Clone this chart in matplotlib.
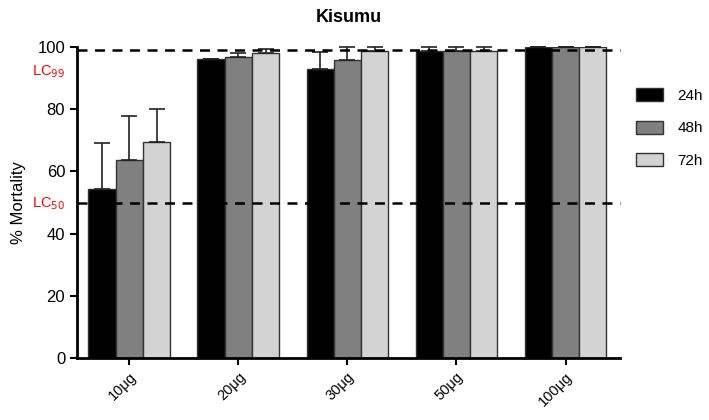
import matplotlib
matplotlib.use("Agg")
import matplotlib.pyplot as plt
import numpy as np

plt.rcParams['font.family'] = ['Liberation Sans', 'DejaVu Sans']

categories = ["10μg", "20μg", "30μg", "50μg", "100μg"]
series_names = ["24h", "48h", "72h"]
mort_24h = [54.3, 96.0, 92.8, 98.8, 100.0]
mort_48h = [63.7, 96.9, 95.8, 98.8, 100.0]
mort_72h = [69.5, 98.0, 98.8, 98.8, 100.0]
err_24h = [14.8, 0.0, 5.5, 1.2, 0.0]
err_48h = [14.1, 1.1, 4.2, 1.2, 0.0]
err_72h = [10.5, 1.3, 1.2, 1.2, 0.0]
lc_levels = [99, 50]
lc_names = ["99", "50"]

colors = ["#000000", "#808080", "#d3d3d3"]

fig = plt.figure(figsize=(7.09, 4.20), dpi=100)
ax = fig.add_axes([0.1086, 0.1476, 0.7659, 0.7405])

x = np.arange(len(categories))
w = 0.25
vals = [mort_24h, mort_48h, mort_72h]
errs = [err_24h, err_48h, err_72h]
for i, (v, e, c, n) in enumerate(zip(vals, errs, colors, series_names)):
    pos = x + (i - 1) * w
    ax.bar(pos, v, width=w, color=c, edgecolor="#333333", linewidth=1.0, label=n, zorder=2)
    ax.errorbar(pos, v, yerr=[np.zeros(len(v)), e], fmt='none', ecolor='#222222',
                elinewidth=1.2, capsize=6, capthick=1.2, zorder=3, clip_on=False)

for lvl in lc_levels:
    ax.axhline(lvl, color='black', linestyle=(0, (4, 3)), linewidth=1.8, zorder=4, clip_on=False)

ax.set_xlim(-0.48, 4.5)
ax.set_ylim(0, 100)
ax.set_yticks([0, 20, 40, 60, 80, 100])
ax.set_xticks(x)
ax.set_xticklabels(categories, rotation=45, ha='right', rotation_mode='anchor', fontsize=10.5)
ax.tick_params(axis='y', labelsize=12, width=1.5, length=5, direction='out')
ax.tick_params(axis='x', width=1.5, length=5, direction='out')
for s in ['top', 'right']:
    ax.spines[s].set_visible(False)
for s in ['left', 'bottom']:
    ax.spines[s].set_linewidth(2)

ax.set_ylabel("% Mortality", fontsize=12, labelpad=8)
ax.set_title("Kisumu", fontsize=13, fontweight='bold', pad=18)

ax.text(-0.59, 92, r"LC$_{%s}$" % lc_names[0], color='red', fontsize=10.5, ha='right', va='center',
        transform=ax.transData, clip_on=False)
ax.text(-0.59, 49.5, r"LC$_{%s}$" % lc_names[1], color='red', fontsize=10.5, ha='right', va='center',
        transform=ax.transData, clip_on=False)

leg = ax.legend(loc='upper left', bbox_to_anchor=(0.897, 0.79), bbox_transform=fig.transFigure,
                frameon=False, fontsize=11, borderpad=0, borderaxespad=0,
                handlelength=1.75, handleheight=0.95, labelspacing=1.15, handletextpad=0.95)

fig.savefig("out.png", dpi=100)
